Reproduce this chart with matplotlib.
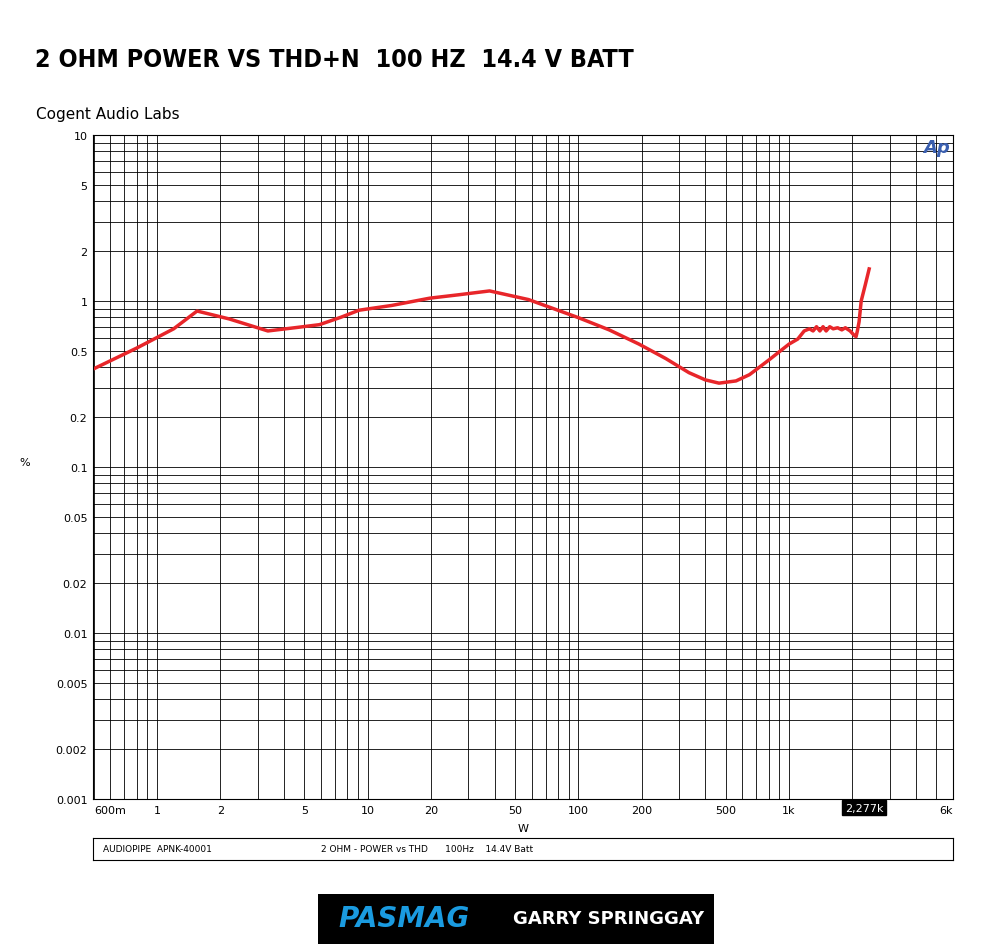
import numpy as np
import matplotlib.pyplot as plt
from matplotlib.patches import Rectangle
from matplotlib.ticker import LogLocator, NullFormatter

# THD+N curve
power_w = [0.5, 0.8, 1.2, 1.55, 2.2, 3.36, 4.5, 5.9, 7.5, 9.1, 13, 19.7, 27, 37.9, 58, 101, 140, 194, 260, 335, 400, 465,
           560, 649, 800, 1000, 1100, 1180, 1250, 1300, 1350, 1400, 1450, 1500, 1560, 1620, 1700, 1780, 1850, 1950, 2040,
           2080, 2110, 2150, 2200, 2300, 2400]
thd_pct = [0.39, 0.52, 0.68, 0.87, 0.78, 0.66, 0.69, 0.72, 0.80, 0.88, 0.94, 1.04, 1.09, 1.15, 1.02, 0.79, 0.67, 0.55,
           0.45, 0.37, 0.335, 0.32, 0.33, 0.36, 0.44, 0.55, 0.59, 0.66, 0.68, 0.66, 0.70, 0.66, 0.70, 0.66, 0.70, 0.68,
           0.69, 0.67, 0.69, 0.66, 0.62, 0.61, 0.66, 0.75, 1.0, 1.25, 1.56]

x_ticks = [0.6, 1, 2, 5, 10, 20, 50, 100, 200, 500, 1000, 6000]
x_labels = ["600m", "1", "2", "5", "10", "20", "50", "100", "200", "500", "1k", "6k"]
y_ticks = [10, 5, 2, 1, 0.5, 0.2, 0.1, 0.05, 0.02, 0.01, 0.005, 0.002, 0.001]
y_labels = ["10", "5", "2", "1", "0.5", "0.2", "0.1", "0.05", "0.02", "0.01", "0.005", "0.002", "0.001"]

fig = plt.figure(figsize=(10, 9.45), dpi=100)
ax = fig.add_axes([0.093, 1 - 800 / 945, 0.86, 664 / 945])
ax.set_xscale("log")
ax.set_yscale("log")
ax.set_xlim(0.497, 5900)
ax.set_ylim(0.001, 10)
ax.grid(True, which="both", color="black", linewidth=0.6)
ax.plot(power_w, thd_pct, color="#e8262a", linewidth=2.5)
ax.set_xticks(x_ticks)
ax.set_xticklabels(x_labels, fontsize=8)
ax.get_xticklabels()[-1].set_horizontalalignment("right")
ax.set_yticks(y_ticks)
ax.set_yticklabels(y_labels, fontsize=8)
ax.xaxis.set_minor_locator(LogLocator(base=10, subs=np.arange(2, 10)))
ax.yaxis.set_minor_locator(LogLocator(base=10, subs=np.arange(2, 10)))
ax.xaxis.set_minor_formatter(NullFormatter())
ax.yaxis.set_minor_formatter(NullFormatter())
ax.tick_params(which="both", length=0, pad=4)
ax.set_xlabel("W", fontsize=8, labelpad=6)
ax.set_ylabel("%", fontsize=8, rotation=0, labelpad=22)
ax.text(2277, 0.00095, "2,277k", fontsize=8, color="white", ha="center", va="top",
        bbox=dict(facecolor="black", edgecolor="black", pad=2))
ax.text(0.997, 0.995, "Ap", transform=ax.transAxes, fontsize=13, color="#3a5fb0",
        fontweight="bold", style="italic", ha="right", va="top")

fig.text(0.035, 0.937, "2 OHM POWER VS THD+N  100 HZ  14.4 V BATT", fontsize=18,
         fontweight="bold", fontstretch="condensed", va="center")
fig.text(0.036, 0.879, "Cogent Audio Labs", fontsize=11, va="center")

# footer box
box = fig.add_axes([0.093, 1 - 861 / 945, 0.86, 22 / 945])
box.set_xticks([])
box.set_yticks([])
box.text(0.012, 0.5, "AUDIOPIPE  APNK-40001", fontsize=6.5, va="center")
box.text(0.265, 0.5, "2 OHM - POWER vs THD      100Hz    14.4V Batt", fontsize=6.5, va="center")

# logo
fig.patches.append(Rectangle((0.318, 0.0), 0.396, 50 / 945,
                             transform=fig.transFigure, facecolor="black"))
fig.text(0.338, 0.027, "PASMAG", fontsize=20, fontweight="bold", style="italic",
         color="#1a9be0", va="center")
fig.text(0.513, 0.027, "GARRY SPRINGGAY", fontsize=13, fontweight="bold",
         color="white", va="center")

fig.savefig("out.png")
